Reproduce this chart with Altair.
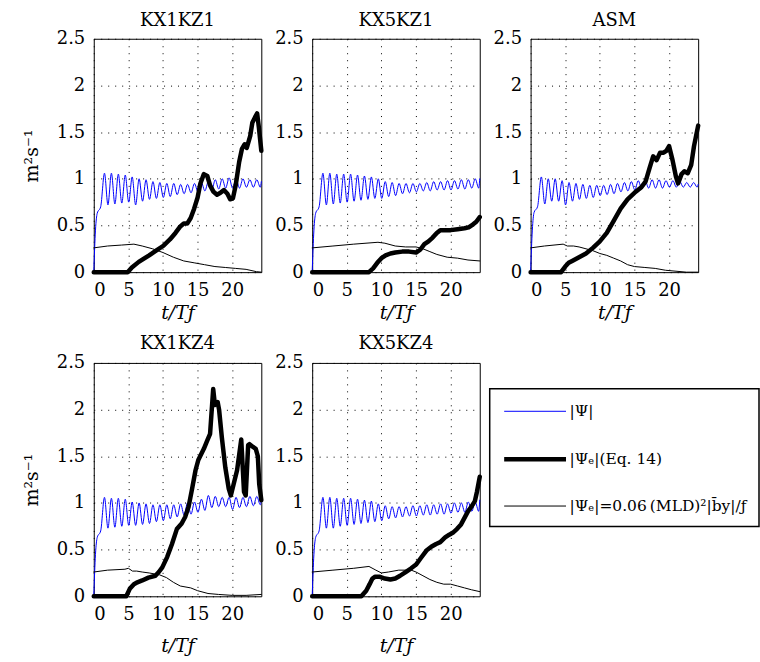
import altair as alt
import numpy as np
import pandas as pd

# ---------------------------------------------------------------- series keys
SERIES = ["psi", "eq14", "param"]
SERIES_COLORS = ["#0000ff", "#000000", "#000000"]
SERIES_WIDTHS = [1.0, 4.5, 1.0]
DRAW_ORDER = ["psi", "param", "eq14"]

PANELS = ["KX1KZ1", "KX5KZ1", "ASM", "KX1KZ4", "KX5KZ4"]

T_END = 24.2

# ---------------------------------------------------------------- |Psi|
# spin-up from rest, then inertial oscillation: maxima at PEAK_T, minima at TROUGH_T
PSI_RISE_T = [0.0, 0.25, 0.5, 1.0]
PSI_RISE = {
    "KX1KZ1": [0.0, 0.45, 0.63, 0.70],
    "KX5KZ1": [0.0, 0.45, 0.63, 0.70],
    "ASM":    [0.0, 0.45, 0.64, 0.70],
    "KX1KZ4": [0.0, 0.45, 0.63, 0.70],
    "KX5KZ4": [0.0, 0.45, 0.63, 0.70],
}
PEAK_T = np.arange(1.55, 23.6, 1.0)
TROUGH_T = np.arange(2.05, 24.1, 1.0)
PSI_PEAKS = {
    "KX1KZ1": [1.06, 1.06, 1.05, 1.04, 1.02, 1.00, 0.99, 0.97, 0.96, 0.95, 0.95, 0.94,
               0.94, 0.95, 0.96, 0.97, 0.99, 1.00, 1.01, 1.00, 1.00, 0.99, 0.99],
    "KX5KZ1": [1.06, 1.06, 1.05, 1.05, 1.05, 1.04, 1.03, 1.02, 1.00, 0.97, 0.96, 0.95,
               0.95, 0.95, 0.95, 0.96, 0.97, 0.97, 0.98, 0.98, 0.99, 0.99, 1.00],
    "ASM":    [1.02, 1.00, 1.00, 0.98, 0.96, 0.95, 0.94, 0.93, 0.93, 0.93, 0.94, 0.95,
               0.96, 0.97, 0.98, 0.98, 0.99, 0.99, 0.98, 0.98, 0.97, 0.96, 0.96],
    "KX1KZ4": [1.06, 1.05, 1.05, 1.04, 1.01, 1.00, 0.99, 0.98, 0.98, 0.98, 0.98, 0.99,
               1.00, 1.01, 1.04, 1.08, 1.07, 1.06, 1.06, 1.06, 1.06, 1.07, 1.07],
    "KX5KZ4": [1.06, 1.06, 1.05, 1.05, 1.05, 1.04, 1.03, 1.02, 0.99, 0.97, 0.96, 0.96,
               0.96, 0.97, 0.97, 0.98, 0.98, 0.99, 0.99, 1.00, 1.00, 1.01, 1.01],
}
PSI_TROUGHS = {
    "KX1KZ1": [0.72, 0.73, 0.74, 0.75, 0.72, 0.76, 0.78, 0.79, 0.80, 0.81, 0.83, 0.84,
               0.85, 0.86, 0.87, 0.88, 0.89, 0.90, 0.90, 0.90, 0.91, 0.91, 0.91],
    "KX5KZ1": [0.72, 0.73, 0.74, 0.75, 0.76, 0.77, 0.78, 0.79, 0.79, 0.81, 0.82, 0.84,
               0.85, 0.86, 0.87, 0.87, 0.88, 0.88, 0.88, 0.89, 0.89, 0.90, 0.90],
    "ASM":    [0.73, 0.76, 0.76, 0.72, 0.76, 0.78, 0.79, 0.80, 0.82, 0.83, 0.84, 0.86,
               0.87, 0.88, 0.89, 0.90, 0.90, 0.90, 0.91, 0.91, 0.91, 0.91, 0.91],
    "KX1KZ4": [0.73, 0.74, 0.75, 0.76, 0.76, 0.77, 0.78, 0.80, 0.81, 0.83, 0.85, 0.87,
               0.88, 0.90, 0.92, 0.95, 0.96, 0.96, 0.93, 0.95, 0.96, 0.97, 0.98],
    "KX5KZ4": [0.73, 0.73, 0.75, 0.76, 0.77, 0.78, 0.79, 0.80, 0.81, 0.83, 0.84, 0.85,
               0.86, 0.86, 0.87, 0.87, 0.88, 0.88, 0.89, 0.90, 0.90, 0.91, 0.91],
}
PSI_END = {"KX1KZ1": 0.97, "KX5KZ1": 1.00, "ASM": 0.94, "KX1KZ4": 1.03, "KX5KZ4": 1.03}

# ---------------------------------------------------------------- |Psi_e| (Eq. 14)
EQ14_T = {
    "KX1KZ1": [0, 4.9, 5.5, 6.5, 8, 9, 10, 11, 11.8, 12.5, 13.0, 13.5, 14, 14.5, 15, 15.4,
               15.9, 16.4, 16.8, 17.3, 17.8, 18.3, 18.8, 19.3, 19.7, 20.1, 20.5, 21.0,
               21.4, 21.8, 22.1, 22.6, 22.9, 23.3, 23.6, 23.85, 24.2],
    "KX5KZ1": [0, 8.2, 8.8, 9.4, 10, 10.6, 11.3, 12, 13, 14, 15, 15.6, 16.2, 16.8, 17.4,
               18, 18.5, 19, 20, 21, 22, 22.6, 23.2, 23.7, 24.2],
    "ASM":    [0, 4.4, 5.0, 5.5, 6, 7, 8, 9, 10, 11, 12, 13, 14, 15, 16, 16.6, 17.2, 17.7,
               18.2, 18.7, 19.2, 19.6, 20.0, 20.5, 21.0, 21.3, 21.8, 22.2, 22.7, 23.2,
               23.6, 24.2],
    "KX1KZ4": [0, 4.7, 5.2, 5.8, 6.3, 7, 7.9, 8.9, 9.4, 9.9, 10.6, 11.3, 12, 12.7, 13.2,
               13.7, 14.2, 14.7, 15.1, 15.9, 16.4, 16.8, 17.25, 17.5, 17.9, 18.1, 18.5,
               19.0, 19.5, 19.8, 20.2, 20.7, 21.3, 21.7, 21.95, 22.3, 22.5, 23.0, 23.4,
               23.7, 23.9, 24.2],
    "KX5KZ4": [0, 7.1, 7.8, 8.3, 8.7, 9.1, 9.7, 10.5, 11.3, 12, 12.7, 13.5, 14.3, 15,
               15.7, 16.5, 17.2, 17.9, 18.5, 19.2, 19.8, 20.3, 20.9, 21.5, 22, 22.5, 23,
               23.5, 23.8, 24.2],
}
EQ14_V = {
    "KX1KZ1": [0, 0, 0.05, 0.11, 0.18, 0.23, 0.28, 0.35, 0.42, 0.49, 0.52, 0.52, 0.58,
               0.68, 0.80, 0.95, 1.05, 1.03, 0.93, 0.86, 0.83, 0.85, 0.88, 0.84, 0.78,
               0.79, 0.93, 1.18, 1.32, 1.37, 1.33, 1.46, 1.60, 1.66, 1.70, 1.55, 1.30],
    "KX5KZ1": [0, 0, 0.04, 0.10, 0.15, 0.18, 0.20, 0.21, 0.22, 0.22, 0.21, 0.24, 0.30,
               0.33, 0.37, 0.42, 0.45, 0.45, 0.45, 0.46, 0.47, 0.48, 0.51, 0.54, 0.59],
    "ASM":    [0, 0, 0.06, 0.10, 0.12, 0.16, 0.20, 0.26, 0.33, 0.42, 0.55, 0.68, 0.78,
               0.85, 0.91, 0.97, 1.12, 1.24, 1.20, 1.28, 1.28, 1.30, 1.35, 1.20, 1.02,
               0.95, 1.05, 1.08, 1.06, 1.15, 1.35, 1.57],
    "KX1KZ4": [0, 0, 0.08, 0.13, 0.15, 0.17, 0.20, 0.22, 0.26, 0.31, 0.42, 0.56, 0.72,
               0.78, 0.85, 0.96, 1.15, 1.35, 1.46, 1.58, 1.67, 1.74, 2.22, 2.05, 2.08,
               2.00, 1.70, 1.38, 1.15, 1.08, 1.20, 1.35, 1.68, 1.12, 1.08, 1.62, 1.63,
               1.60, 1.58, 1.50, 1.20, 1.03],
    "KX5KZ4": [0, 0, 0.06, 0.13, 0.19, 0.21, 0.21, 0.19, 0.18, 0.19, 0.22, 0.26, 0.30,
               0.34, 0.41, 0.49, 0.53, 0.56, 0.58, 0.63, 0.66, 0.68, 0.72, 0.77, 0.84,
               0.91, 0.96, 1.02, 1.12, 1.28],
}

# ---------------------------------------------------------------- |Psi_e| = 0.06 (MLD)^2 |b_y| / f
PARAM_T = {
    "KX1KZ1": [0, 2, 4, 5.8, 7, 8.5, 10, 11.5, 13, 14.5, 16, 17.5, 19, 20.5, 22, 23.5, 24.2],
    "KX5KZ1": [0, 3, 6, 9.5, 10.5, 12, 13.5, 15, 16, 17, 18, 19.5, 21, 22.5, 24.2],
    "ASM":    [0, 2, 4.7, 5.3, 6.2, 7, 8, 9, 10, 11, 12, 13, 14, 15, 16.5, 18, 19.5, 21,
               22.5, 24.2],
    "KX1KZ4": [0, 2, 4.5, 5.0, 5.6, 6.2, 7, 8, 9.5, 10.5, 11.5, 12.5, 14, 15, 16.5, 18,
               20, 22, 24.2],
    "KX5KZ4": [0, 3, 6, 8.2, 9.2, 10, 11, 12.5, 14.3, 15, 16, 17, 18, 19, 20, 21, 22, 23,
               24.2],
}
PARAM_V = {
    "KX1KZ1": [0.26, 0.28, 0.29, 0.30, 0.28, 0.25, 0.21, 0.16, 0.12, 0.10, 0.08, 0.06,
               0.05, 0.04, 0.03, 0.005, 0.0],
    "KX5KZ1": [0.26, 0.28, 0.30, 0.32, 0.31, 0.28, 0.27, 0.27, 0.25, 0.22, 0.19, 0.16,
               0.15, 0.13, 0.12],
    "ASM":    [0.26, 0.28, 0.30, 0.28, 0.28, 0.27, 0.25, 0.23, 0.20, 0.18, 0.15, 0.12,
               0.08, 0.06, 0.05, 0.04, 0.02, 0.01, 0.0, 0.0],
    "KX1KZ4": [0.26, 0.28, 0.29, 0.30, 0.27, 0.27, 0.26, 0.25, 0.23, 0.20, 0.15, 0.11,
               0.09, 0.06, 0.03, 0.02, 0.01, 0.01, 0.02],
    "KX5KZ4": [0.26, 0.28, 0.30, 0.32, 0.28, 0.25, 0.26, 0.28, 0.28, 0.26, 0.22, 0.18,
               0.15, 0.13, 0.13, 0.11, 0.09, 0.07, 0.05],
}

# ---------------------------------------------------------------- axis / legend text
X_TICKS = [0, 5, 10, 15, 20]
Y_TICKS = [0, 0.5, 1, 1.5, 2, 2.5]
X_TITLE = "t/Tƒ"
Y_TITLE = "m²s⁻¹"

LEGEND_LABELS = {
    "psi": "|Ψ|",
    "eq14": "|Ψₑ|(Eq. 14)",
    "param": "|Ψₑ|=0.06\u2009(MLD)²|b̄y|/ƒ",
}

FONT = "DejaVu Serif"


def panel_table(name):
    t = list(PSI_RISE_T)
    v = list(PSI_RISE[name])
    for tp, vp, tt, vt in zip(PEAK_T, PSI_PEAKS[name], TROUGH_T, PSI_TROUGHS[name]):
        t += [float(tp), float(tt)]
        v += [vp, vt]
    t.append(T_END)
    v.append(PSI_END[name])
    psi = pd.DataFrame({"t": t, "v": v, "series": "psi"})
    eq14 = pd.DataFrame({"t": EQ14_T[name], "v": EQ14_V[name], "series": "eq14"})
    param = pd.DataFrame({"t": PARAM_T[name], "v": PARAM_V[name], "series": "param"})
    return pd.concat([psi, eq14, param], ignore_index=True)


def label_expr():
    return (f"datum.value == 'psi' ? '{LEGEND_LABELS['psi']}' : "
            f"datum.value == 'eq14' ? '{LEGEND_LABELS['eq14']}' : "
            f"'{LEGEND_LABELS['param']}'")


# legend key: a flat horizontal stroke 3.1x wider than the nominal symbol box
LEGEND = alt.Legend(
    title=None,
    orient="none",
    legendX=397,
    legendY=351,
    symbolType="M-3.1,0H3.1",
    symbolSize=400,
    symbolOffset=21,
    labelOffset=22,
    labelExpr=label_expr(),
)


def panel(name, y_title, title_offset, x_title_pad):
    x = alt.X(
        "t:Q",
        scale=alt.Scale(domain=[0, T_END], nice=False, zero=False),
        axis=alt.Axis(values=X_TICKS, title=X_TITLE, titleFontStyle="italic",
                      titlePadding=x_title_pad),
    )
    y = alt.Y(
        "v:Q",
        scale=alt.Scale(domain=[0, 2.5], nice=False),
        axis=alt.Axis(values=Y_TICKS, format="~g",
                      title=Y_TITLE if y_title else None),
    )
    color = alt.Color("series:N",
                      scale=alt.Scale(type="ordinal", domain=SERIES, range=SERIES_COLORS),
                      legend=LEGEND)
    width = alt.StrokeWidth("series:N",
                            scale=alt.Scale(type="ordinal", domain=SERIES,
                                            range=SERIES_WIDTHS),
                            legend=LEGEND)
    base = alt.Chart(panel_table(name))
    layers = []
    for s in DRAW_ORDER:
        layers.append(
            base.transform_filter(alt.datum.series == s)
            .mark_line(interpolate="monotone" if s == "psi" else "linear",
                       strokeJoin="round", strokeCap="round", clip=False)
            .encode(x=x, y=y, color=color, strokeWidth=width)
        )
    return alt.layer(*layers).properties(
        width=168,
        height=234,
        title=alt.TitleParams(name, offset=title_offset),
    )


chart = (
    alt.concat(
        panel("KX1KZ1", True, 0, 4),
        panel("KX5KZ1", False, 0, 4),
        panel("ASM", False, 0, 4),
        panel("KX1KZ4", True, 1, 13),
        panel("KX5KZ4", False, 1, 13),
        columns=3,
        spacing={"row": 91, "column": 51},
        bounds="flush",
    )
    .properties(padding={"left": 21, "top": 10, "right": 0, "bottom": 0},
                background="white")
    .configure_view(stroke="black", strokeWidth=1)
    .configure_axis(
        domain=False,
        ticks=False,
        tickSize=0,
        grid=True,
        gridColor="black",
        gridDash=[1, 6],
        gridWidth=1,
        labelFont=FONT,
        labelFontSize=18,
        labelColor="black",
        labelPadding=9,
        titleFont=FONT,
        titleFontSize=19,
        titleFontWeight="normal",
        titleColor="black",
    )
    .configure_axisY(titlePadding=15)
    .configure_title(font=FONT, fontSize=18, fontWeight="normal", color="black",
                     anchor="middle")
    .configure_legend(
        labelFont=FONT,
        labelFontSize=15.5,
        labelColor="black",
        labelLimit=400,
        padding=12,
        rowPadding=27,
        strokeColor="black",
        strokeWidth=1.5,
        fillColor="white",
    )
)

chart.save("out.html", embed_options={"renderer": "svg", "actions": False})
